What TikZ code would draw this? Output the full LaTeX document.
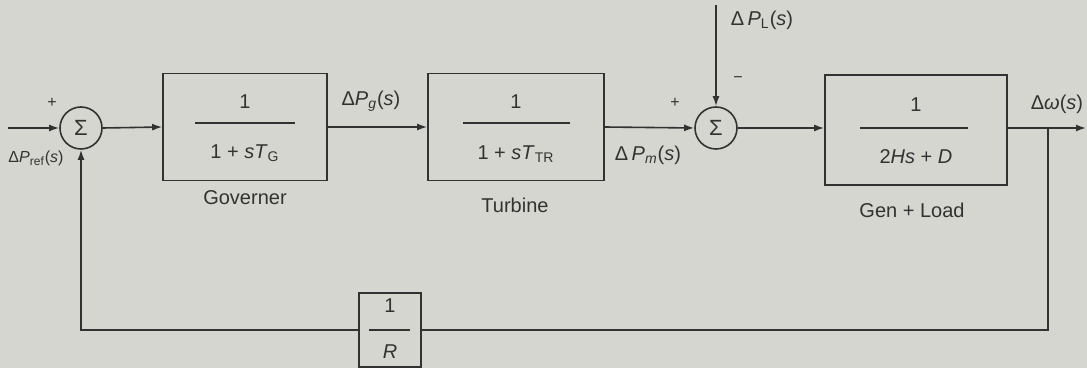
\documentclass[tikz,border=0pt]{standalone}
\usepackage{fontspec}
\setmainfont{Liberation Sans}
\usetikzlibrary{arrows.meta}
\definecolor{bg}{RGB}{214,214,208}
\definecolor{ink}{RGB}{50,50,50}
\begin{document}
\begin{tikzpicture}[x=0.5pt,y=-0.5pt,
  font=\fontsize{10}{12}\selectfont, text=ink,
  blk/.style={draw=ink, line width=0.8pt, inner sep=0pt},
  sumnode/.style={circle, draw=ink, line width=0.8pt, minimum size=21pt, inner sep=0pt, font=\fontsize{11}{12}\selectfont},
  arr/.style={draw=ink, line width=0.8pt, -{Latex[length=5pt,width=3.5pt]}},
  wire/.style={draw=ink, line width=0.8pt},
  bar/.style={draw=ink, line width=0.7pt},
  sign/.style={font=\fontsize{8}{9}\selectfont}]
\fill[bg] (0,0) rectangle (1087,368);
\useasboundingbox (0,0) rectangle (1087,368);

% summing junctions
\node[sumnode] (s1) at (81,128) {Σ};
\node[sumnode] (s2) at (716,128) {Σ};

% blocks
\node[blk, minimum width=82pt, minimum height=53.5pt] (gov) at (245,127) {};
\node[blk, minimum width=88pt, minimum height=53.5pt] (tur) at (516,127) {};
\node[blk, minimum width=91pt, minimum height=55pt] (gen) at (916,130) {};
\node[blk, minimum width=31pt, minimum height=37pt] (fb) at (390,330) {};

% fractions
\node (govn) at (245,102) {1};
\draw[bar] (195,123) -- (295,123);
\node (govd) at (245,153) {1 + \textit{sT}\textsubscript{G}};
\node (turn) at (516,102) {1};
\draw[bar] (463,123) -- (570,123);
\node (turd) at (516,154) {1 + \textit{sT}\textsubscript{TR}};
\node (genn) at (916,105) {1};
\draw[bar] (860,128) -- (968,128);
\node (gend) at (916,157) {2\textit{Hs} + \textit{D}};
\node (fbn) at (390,306) {1};
\draw[bar] (369,330) -- (410,330);
\node (fbd) at (390,352) {\textit{R}};

% block captions
\node (govl) at (245,198) {Governer};
\node (turl) at (515,205) {Turbine};
\node (genl) at (912,210) {Gen + Load};

% forward path
\coordinate (in) at (8,128);
\draw[arr] (in) -- (s1.west);
\node[sign] (p1) at (52,103) {+};
\node[font=\fontsize{8}{9}\selectfont] (pref) at (36,158) {Δ\textit{P}\textsubscript{ref}(\textit{s})};
\draw[arr] (s1.east) -- (gov.west);
\draw[arr] (gov.east) -- (tur.west);
\node (pg) at (371,101) {Δ\textit{P\textsubscript{g}}(\textit{s})};
\draw[arr] (tur.east) -- (s2.west);
\node (pm) at (648,155) {Δ\,\textit{P\textsubscript{m}}(\textit{s})};
\node[sign] (p2) at (675,103) {+};
\coordinate (pltop) at (716,5);
\draw[arr] (pltop) -- (s2.north);
\node (pl) at (762,20) {Δ\,\textit{P}\textsubscript{L}(\textit{s})};
\node[sign] (m2) at (738,80) {−};
\draw[arr] (s2.east) -- (gen.west |- s2.east);
\coordinate (out) at (1086,128);
\draw[arr] (gen.east |- out) -- (out);
\node (dw) at (1057,104) {Δ\textit{ω}(\textit{s})};

% feedback
\coordinate (br) at (1048,128);
\coordinate (fbr) at (1048,330);
\draw[wire] (br) -- (fbr) -- (fb.east);
\draw[arr] (fb.west) -| (s1.south);
\end{tikzpicture}
\end{document}
